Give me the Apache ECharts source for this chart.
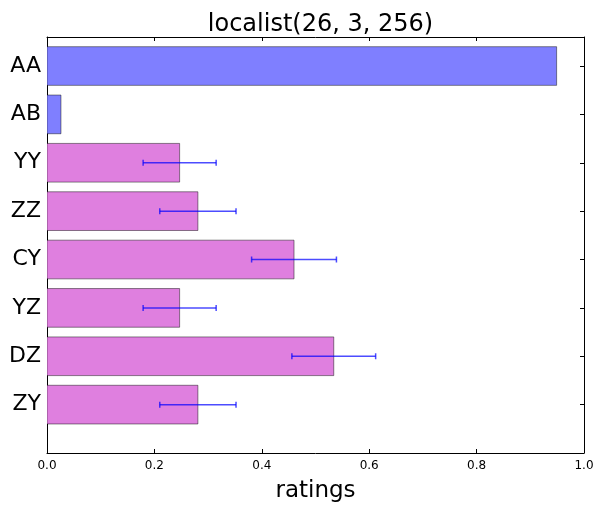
<!DOCTYPE html>
<html>
<head>
<meta charset="utf-8">
<script src="https://cdn.jsdelivr.net/npm/echarts@6/dist/echarts.min.js"></script>
<style>html,body{margin:0;padding:0;background:#fff;}#c{width:597px;height:506px;}</style>
</head>
<body>
<div id="c"></div>
<script>
const title = 'localist(26, 3, 256)';
const categories = ['AA', 'AB', 'YY', 'ZZ', 'CY', 'YZ', 'DZ', 'ZY'];
const ratings = [0.949, 0.026, 0.247, 0.281, 0.460, 0.247, 0.534, 0.281];
const errors = [null, null, 0.068, 0.071, 0.079, 0.068, 0.078, 0.071];
const groups = ['target', 'target', 'other', 'other', 'other', 'other', 'other', 'other'];

const colors = { target: '#7f7fff', other: '#df7fdf' };
const positions = categories.map((c, i) => i);
const barData = ratings.map((v, i) => [v, positions[i]]);
const errData = [];
ratings.forEach((v, i) => {
  if (errors[i] != null) errData.push([v - errors[i], v + errors[i], positions[i]]);
});

const font = 'DejaVu Sans';
const chart = echarts.init(document.getElementById('c'), null, { renderer: 'canvas' });

const xCommon = {
  type: 'value', min: 0, max: 1, interval: 0.2,
  splitLine: { show: false },
  axisLine: { show: true, onZero: false, lineStyle: { color: '#000', width: 1 } },
  axisTick: { show: true, inside: true, length: 4, lineStyle: { color: '#000' } }
};
const yCommon = {
  type: 'value', inverse: true, min: -0.6, max: 8,
  splitLine: { show: false },
  axisLine: { show: true, onZero: false, lineStyle: { color: '#000', width: 1 } },
  axisTick: { show: true, inside: true, length: 4, customValues: positions, lineStyle: { color: '#000' } }
};

chart.setOption({
  animation: false,
  backgroundColor: '#fff',
  title: {
    text: title, left: 315.5, top: 8, textAlign: 'center',
    textStyle: { fontFamily: font, fontSize: 24, fontWeight: 'normal', color: '#000' }
  },
  grid: { left: 47, right: 13, top: 37, bottom: 53, containLabel: false, outerBoundsMode: 'none' },
  xAxis: [
    Object.assign({}, xCommon, {
      position: 'bottom',
      axisLabel: { show: true, margin: 7, fontFamily: font, fontSize: 12, color: '#000',
        formatter: v => v.toFixed(1) },
      name: 'ratings', nameLocation: 'middle', nameGap: 27,
      nameTextStyle: { fontFamily: font, fontSize: 23, color: '#000' }
    }),
    Object.assign({}, xCommon, { position: 'top', axisLabel: { show: false } })
  ],
  yAxis: [
    Object.assign({}, yCommon, {
      position: 'left',
      axisLabel: { show: true, margin: 6, customValues: positions, fontFamily: font, fontSize: 22, color: '#000',
        formatter: v => categories[Math.round(v)] }
    }),
    Object.assign({}, yCommon, { position: 'right', axisLabel: { show: false } })
  ],
  series: [
    {
      type: 'custom', xAxisIndex: 0, yAxisIndex: 0, clip: true,
      data: barData,
      encode: { x: 0, y: 1 },
      renderItem: function (params, api) {
        const v = api.value(0), y = api.value(1);
        const p0 = api.coord([0, y]);
        const p1 = api.coord([v, y]);
        const h = api.size([0, 0.8])[1];
        return {
          type: 'rect',
          shape: { x: p0[0], y: p0[1] - h / 2, width: p1[0] - p0[0], height: h },
          style: { fill: colors[groups[params.dataIndex]], stroke: 'rgba(0,0,0,0.45)', lineWidth: 1 }
        };
      }
    },
    {
      type: 'custom', xAxisIndex: 0, yAxisIndex: 0, clip: true, z: 5,
      data: errData,
      encode: { x: [0, 1], y: 2 },
      renderItem: function (params, api) {
        const lo = api.value(0), hi = api.value(1), y = api.value(2);
        const a = api.coord([lo, y]);
        const b = api.coord([hi, y]);
        const cap = 3;
        const st = { stroke: 'rgba(0,0,255,0.7)', lineWidth: 1.5 };
        return {
          type: 'group',
          children: [
            { type: 'line', shape: { x1: a[0], y1: a[1], x2: b[0], y2: b[1] }, style: st },
            { type: 'line', shape: { x1: a[0], y1: a[1] - cap, x2: a[0], y2: a[1] + cap }, style: st },
            { type: 'line', shape: { x1: b[0], y1: b[1] - cap, x2: b[0], y2: b[1] + cap }, style: st }
          ]
        };
      }
    }
  ]
});
</script>
</body>
</html>
